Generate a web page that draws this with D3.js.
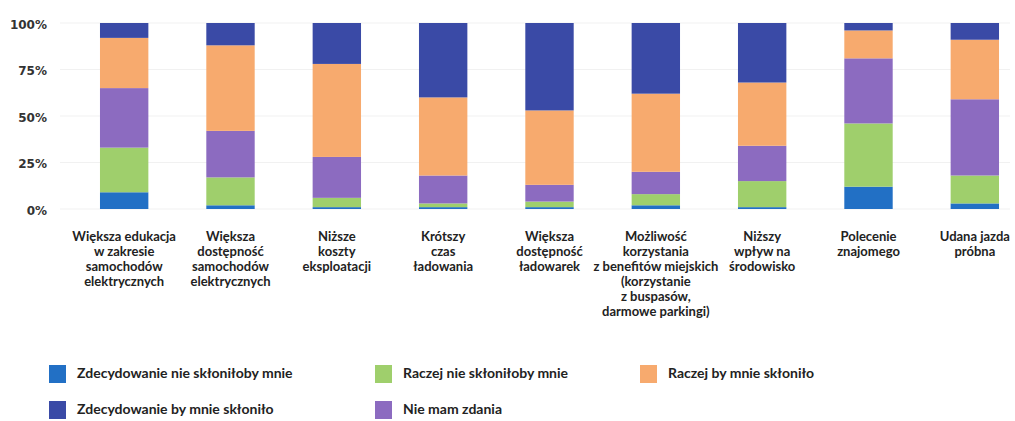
<!DOCTYPE html>
<html>
<head>
<meta charset="utf-8">
<script src="https://cdn.jsdelivr.net/npm/d3@7"></script>
<style>
  body { margin: 0; background: #fff; }
  text { font-family: Lato, "Noto Sans", sans-serif; fill: #222; }
</style>
</head>
<body>
<div id="chart"></div>
<script>
const WIDTH = 1015, HEIGHT = 421;

// categories (label lines)
const categories = [
    ["Większa edukacja", "w zakresie", "samochodów", "elektrycznych"],
    ["Większa", "dostępność", "samochodów", "elektrycznych"],
    ["Niższe", "koszty", "eksploatacji"],
    ["Krótszy", "czas", "ładowania"],
    ["Większa", "dostępność", "ładowarek"],
    ["Możliwość", "korzystania", "z benefitów miejskich", "(korzystanie", "z buspasów,", "darmowe parkingi)"],
    ["Niższy", "wpływ na", "środowisko"],
    ["Polecenie", "znajomego"],
    ["Udana jazda", "próbna"]
]
// series, bottom to top (%)
const seriesNames = [
    "Zdecydowanie nie skłoniłoby mnie",
    "Raczej nie skłoniłoby mnie",
    "Nie mam zdania",
    "Raczej by mnie skłoniło",
    "Zdecydowanie by mnie skłoniło"
]
const strongNo  = [9, 2, 1, 1, 1, 2, 1, 12, 3]
const ratherNo  = [24, 15, 5, 2, 3, 6, 14, 34, 15]
const noOpinion = [32, 25, 22, 15, 9, 12, 19, 35, 41]
const ratherYes = [27, 46, 50, 42, 40, 42, 34, 15, 32]
const strongYes = [8, 12, 22, 40, 47, 38, 32, 4, 9]
const yTicks = [0, 25, 50, 75, 100]

const COLORS = ["#2270c5", "#9fcf6c", "#8c6bc0", "#f7aa6e", "#3a4aa6"]

const rows = categories.map((c, i) => ({
    key: i,
    s0: strongNo[i], s1: ratherNo[i], s2: noOpinion[i], s3: ratherYes[i], s4: strongYes[i]
}))
const stack = d3.stack().keys(["s0", "s1", "s2", "s3", "s4"])(rows)

const svg = d3.select("#chart").append("svg")
    .attr("width", WIDTH).attr("height", HEIGHT)

const x = d3.scaleBand()
    .domain(rows.map(r => r.key))
    .range([71, 1028])
    .paddingInner(0.545)
    .paddingOuter(0.2725)
const y = d3.scaleLinear().domain([0, 100]).range([209, 23])

// faint grid
svg.append("g").selectAll("line").data(yTicks).join("line")
    .attr("x1", 60).attr("x2", 1010)
    .attr("y1", d => y(d)).attr("y2", d => y(d))
    .attr("stroke", "#f1f1f1").attr("stroke-width", 1)

svg.append("g").selectAll("text").data(yTicks).join("text")
    .attr("x", 47).attr("y", d => y(d) + 2)
    .attr("text-anchor", "end").attr("dominant-baseline", "middle")
    .style("font-family", "'DejaVu Sans', sans-serif")
    .style("font-weight", "bold").style("font-size", "12px")
    .style("fill", "#333")
    .text(d => d + "%")

svg.append("g").selectAll("g").data(stack).join("g")
    .attr("fill", (d, i) => COLORS[i])
    .selectAll("rect").data(d => d).join("rect")
    .attr("x", d => x(d.data.key))
    .attr("width", x.bandwidth())
    .attr("y", d => y(d[1]))
    .attr("height", d => y(d[0]) - y(d[1]))

// category labels
const lab = svg.append("g").selectAll("text").data(categories).join("text")
    .attr("text-anchor", "middle")
    .style("font-weight", "bold").style("font-size", "13px")
    .attr("transform", (d, i) => `translate(${x(i) + x.bandwidth() / 2},241)`)
lab.selectAll("tspan").data(d => d).join("tspan")
    .attr("x", 0).attr("dy", (d, i) => i === 0 ? 0 : 15)
    .text(d => d)

// legend
const legendPos = [[49, 374], [375, 374], [640, 374], [49, 410], [375, 410]]
const legendOrder = [0, 1, 3, 4, 2]
const leg = svg.append("g").selectAll("g").data(legendOrder).join("g")
    .attr("transform", (d, i) => `translate(${legendPos[i][0]},${legendPos[i][1]})`)
leg.append("rect")
    .attr("x", 0).attr("y", -9).attr("width", 17).attr("height", 18)
    .attr("fill", d => COLORS[d])
leg.append("text")
    .attr("x", 28).attr("y", 0).attr("dominant-baseline", "middle")
    .style("font-weight", "bold").style("font-size", "14px")
    .text(d => seriesNames[d])
</script>
</body>
</html>
